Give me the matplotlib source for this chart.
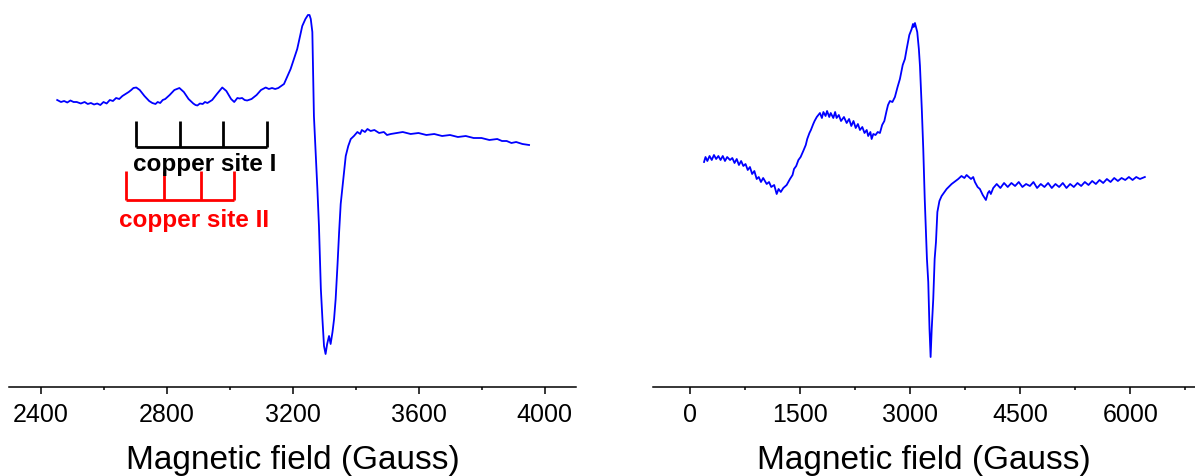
import matplotlib.pyplot as plt
from matplotlib.ticker import MultipleLocator

plt.rcParams["font.family"] = ["Liberation Sans", "DejaVu Sans"]

# ─── данные: левый спектр (поле, G / сигнал, отн. ед.) ─────────────────────────
field_a = [2453, 2465, 2475, 2485, 2495, 2505, 2515, 2528, 2540, 2550, 2560, 2570,
           2580, 2590, 2600, 2610, 2620, 2630, 2640, 2650, 2660, 2670, 2680, 2688,
           2695, 2704, 2715, 2730, 2745, 2755, 2765, 2772, 2780, 2788, 2796, 2810,
           2825, 2841, 2855, 2870, 2885, 2892, 2898, 2906, 2915, 2922, 2930, 2945,
           2960, 2977, 2990, 3005, 3015, 3025, 3032, 3040, 3048, 3056, 3070, 3086,
           3100, 3115, 3125, 3135, 3145, 3155, 3173, 3194, 3215, 3231, 3241, 3249,
           3254, 3258, 3263, 3268, 3273, 3279, 3284, 3290, 3295, 3300, 3305, 3310,
           3316, 3321, 3327, 3332, 3337, 3343, 3348, 3353, 3359, 3369, 3377, 3385,
           3395, 3406, 3415, 3420, 3430, 3438, 3448, 3460, 3475, 3490, 3500, 3512,
           3530, 3550, 3575, 3600, 3625, 3650, 3675, 3700, 3725, 3750, 3775, 3800,
           3825, 3850, 3865, 3880, 3895, 3910, 3930, 3951]
signal_a = [287, 285, 286, 284.5, 286.5, 285, 285, 283.5, 285, 283, 284, 282.5,
            283.5, 282, 285, 283.5, 287, 286, 289, 288, 291, 293, 295, 297,
            299, 299.5, 297, 291, 286, 284, 283, 285, 284, 287, 288, 292,
            297, 299, 295, 288, 283.5, 282, 281.5, 283.5, 283, 285, 284, 287,
            293, 299.5, 296, 288, 285, 289, 288.5, 289, 287, 286.5, 288, 292,
            297, 299.5, 298, 299, 298, 299, 303, 318, 338, 361, 368, 372,
            372, 368, 355, 271, 238, 198, 161, 98, 68, 41, 33, 43,
            51, 43, 55, 68, 88, 123, 155, 183, 201, 231, 241, 248,
            251, 255, 253, 257, 255, 258, 256, 257, 254, 255, 252, 253,
            254, 255, 253, 254, 252, 253, 251, 252, 250, 251, 249, 249,
            247, 248, 246, 246, 244, 245, 243, 242]

# ─── данные: правый спектр ─────────────────────────────────────────────────────
field_b = [195, 215, 240, 270, 300, 330, 360, 390, 420, 450, 480, 510, 549, 580,
           610, 640, 670, 700, 730, 760, 790, 820, 850, 880, 912, 940, 970, 1000,
           1048, 1080, 1110, 1150, 1184, 1210, 1240, 1274, 1320, 1365, 1400, 1420,
           1450, 1480, 1510, 1546, 1580, 1600, 1630, 1650, 1682, 1700, 1730, 1773,
           1800, 1820, 1850, 1870, 1900, 1920, 1955, 1980, 2000, 2030, 2060, 2100,
           2137, 2170, 2200, 2230, 2260, 2290, 2318, 2350, 2380, 2410, 2430, 2460,
           2477, 2500, 2530, 2560, 2590, 2620, 2650, 2680, 2700, 2726, 2760, 2794,
           2830, 2862, 2900, 2930, 2954, 2990, 3022, 3040, 3050, 3067, 3098, 3120,
           3135, 3160, 3180, 3200, 3216, 3230, 3248, 3265, 3280, 3295, 3316, 3335,
           3353, 3372, 3400, 3430, 3498, 3566, 3656, 3700, 3740, 3770, 3800, 3830,
           3860, 3883, 3920, 3951, 3990, 4033, 4060, 4080, 4100, 4133, 4180, 4230,
           4280, 4330, 4380, 4430, 4480, 4530, 4580, 4632, 4680, 4730, 4780, 4830,
           4880, 4930, 4980, 5030, 5080, 5130, 5180, 5230, 5280, 5330, 5380, 5430,
           5480, 5530, 5580, 5630, 5680, 5730, 5780, 5830, 5880, 5930, 5980, 6030,
           6080, 6130, 6197]
signal_b = [225, 230, 226, 231, 227, 232, 228, 231, 227, 231, 226, 230, 227, 229,
            224, 228, 222, 226, 221, 223, 217, 220, 213, 216, 208, 210, 205, 209,
            203, 205, 200, 202, 193, 198, 195, 199, 202, 208, 212, 218,
            221, 227, 230, 236, 242, 248, 254, 257, 263, 266, 270, 274,
            269, 275, 271, 276, 270, 274, 269, 275, 269, 272, 266, 270,
            264, 268, 261, 266, 259, 263, 257, 260, 254, 257, 251, 255,
            248, 253, 252, 255, 254, 262, 266, 276, 282, 286, 285, 290,
            300, 308, 322, 328, 338, 352, 358, 363, 360, 364, 355, 338,
            321, 278, 238, 188, 155, 128, 105, 58, 30, 58, 88, 128,
            145, 175, 186, 191, 198, 203, 208, 211, 209, 212, 210, 208,
            210, 205, 200, 198, 192, 187, 194, 196, 193, 199, 203, 199,
            204, 200, 204, 201, 205, 200, 203, 201, 205, 199, 203, 200,
            204, 199, 203, 200, 204, 199, 203, 200, 204, 201, 205, 202,
            206, 203, 207, 204, 208, 205, 209, 206, 209, 207, 210, 207,
            210, 208, 210]

# ─── метки сверхтонкой структуры ───────────────────────────────────────────────
site1_lines = [2703, 2844, 2980, 3118]
site2_lines = [2672, 2791, 2911, 3014]

fig = plt.figure(figsize=(11.95, 4.77), dpi=100)
ax1 = fig.add_axes([9 / 1195, 89 / 477, 567 / 1195, 388 / 477])
ax2 = fig.add_axes([653 / 1195, 89 / 477, 542 / 1195, 388 / 477])

ax1.plot(field_a, signal_a, color="#0000ff", lw=1.3)
ax2.plot(field_b, signal_b, color="#0000ff", lw=1.3)

# гребёнки
ax1.vlines(site1_lines, 240, 266, color="black", lw=2)
ax1.hlines(240, site1_lines[0], site1_lines[-1], color="black", lw=2)
ax1.text(2695, 223, "copper site I", fontsize=17.5, fontweight="bold",
         color="black", va="center", ha="left")
ax1.vlines(site2_lines, 187, 216, color="red", lw=2)
ax1.hlines(187, site2_lines[0], site2_lines[-1], color="red", lw=2)
ax1.text(2648, 167, "copper site II", fontsize=17.5, fontweight="bold",
         color="red", va="center", ha="left")

for ax, lim, major in ((ax1, (2300, 4100), 400), (ax2, (-500, 6880), 1500)):
    ax.set_xlim(*lim)
    ax.set_ylim(0, 388)
    ax.xaxis.set_major_locator(MultipleLocator(major))
    ax.xaxis.set_minor_locator(MultipleLocator(major / 2))
    for s in ("left", "right", "top"):
        ax.spines[s].set_visible(False)
    ax.spines["bottom"].set_linewidth(1.1)
    ax.set_yticks([])
    ax.tick_params(axis="x", which="major", length=5, width=1.1,
                   labelsize=18, pad=6)
    ax.tick_params(axis="x", which="minor", length=2.5, width=1.1)
    ax.set_xlabel("Magnetic field (Gauss)", fontsize=24, labelpad=13)
    ax.patch.set_alpha(0)

fig.savefig("out.png", dpi=100)
